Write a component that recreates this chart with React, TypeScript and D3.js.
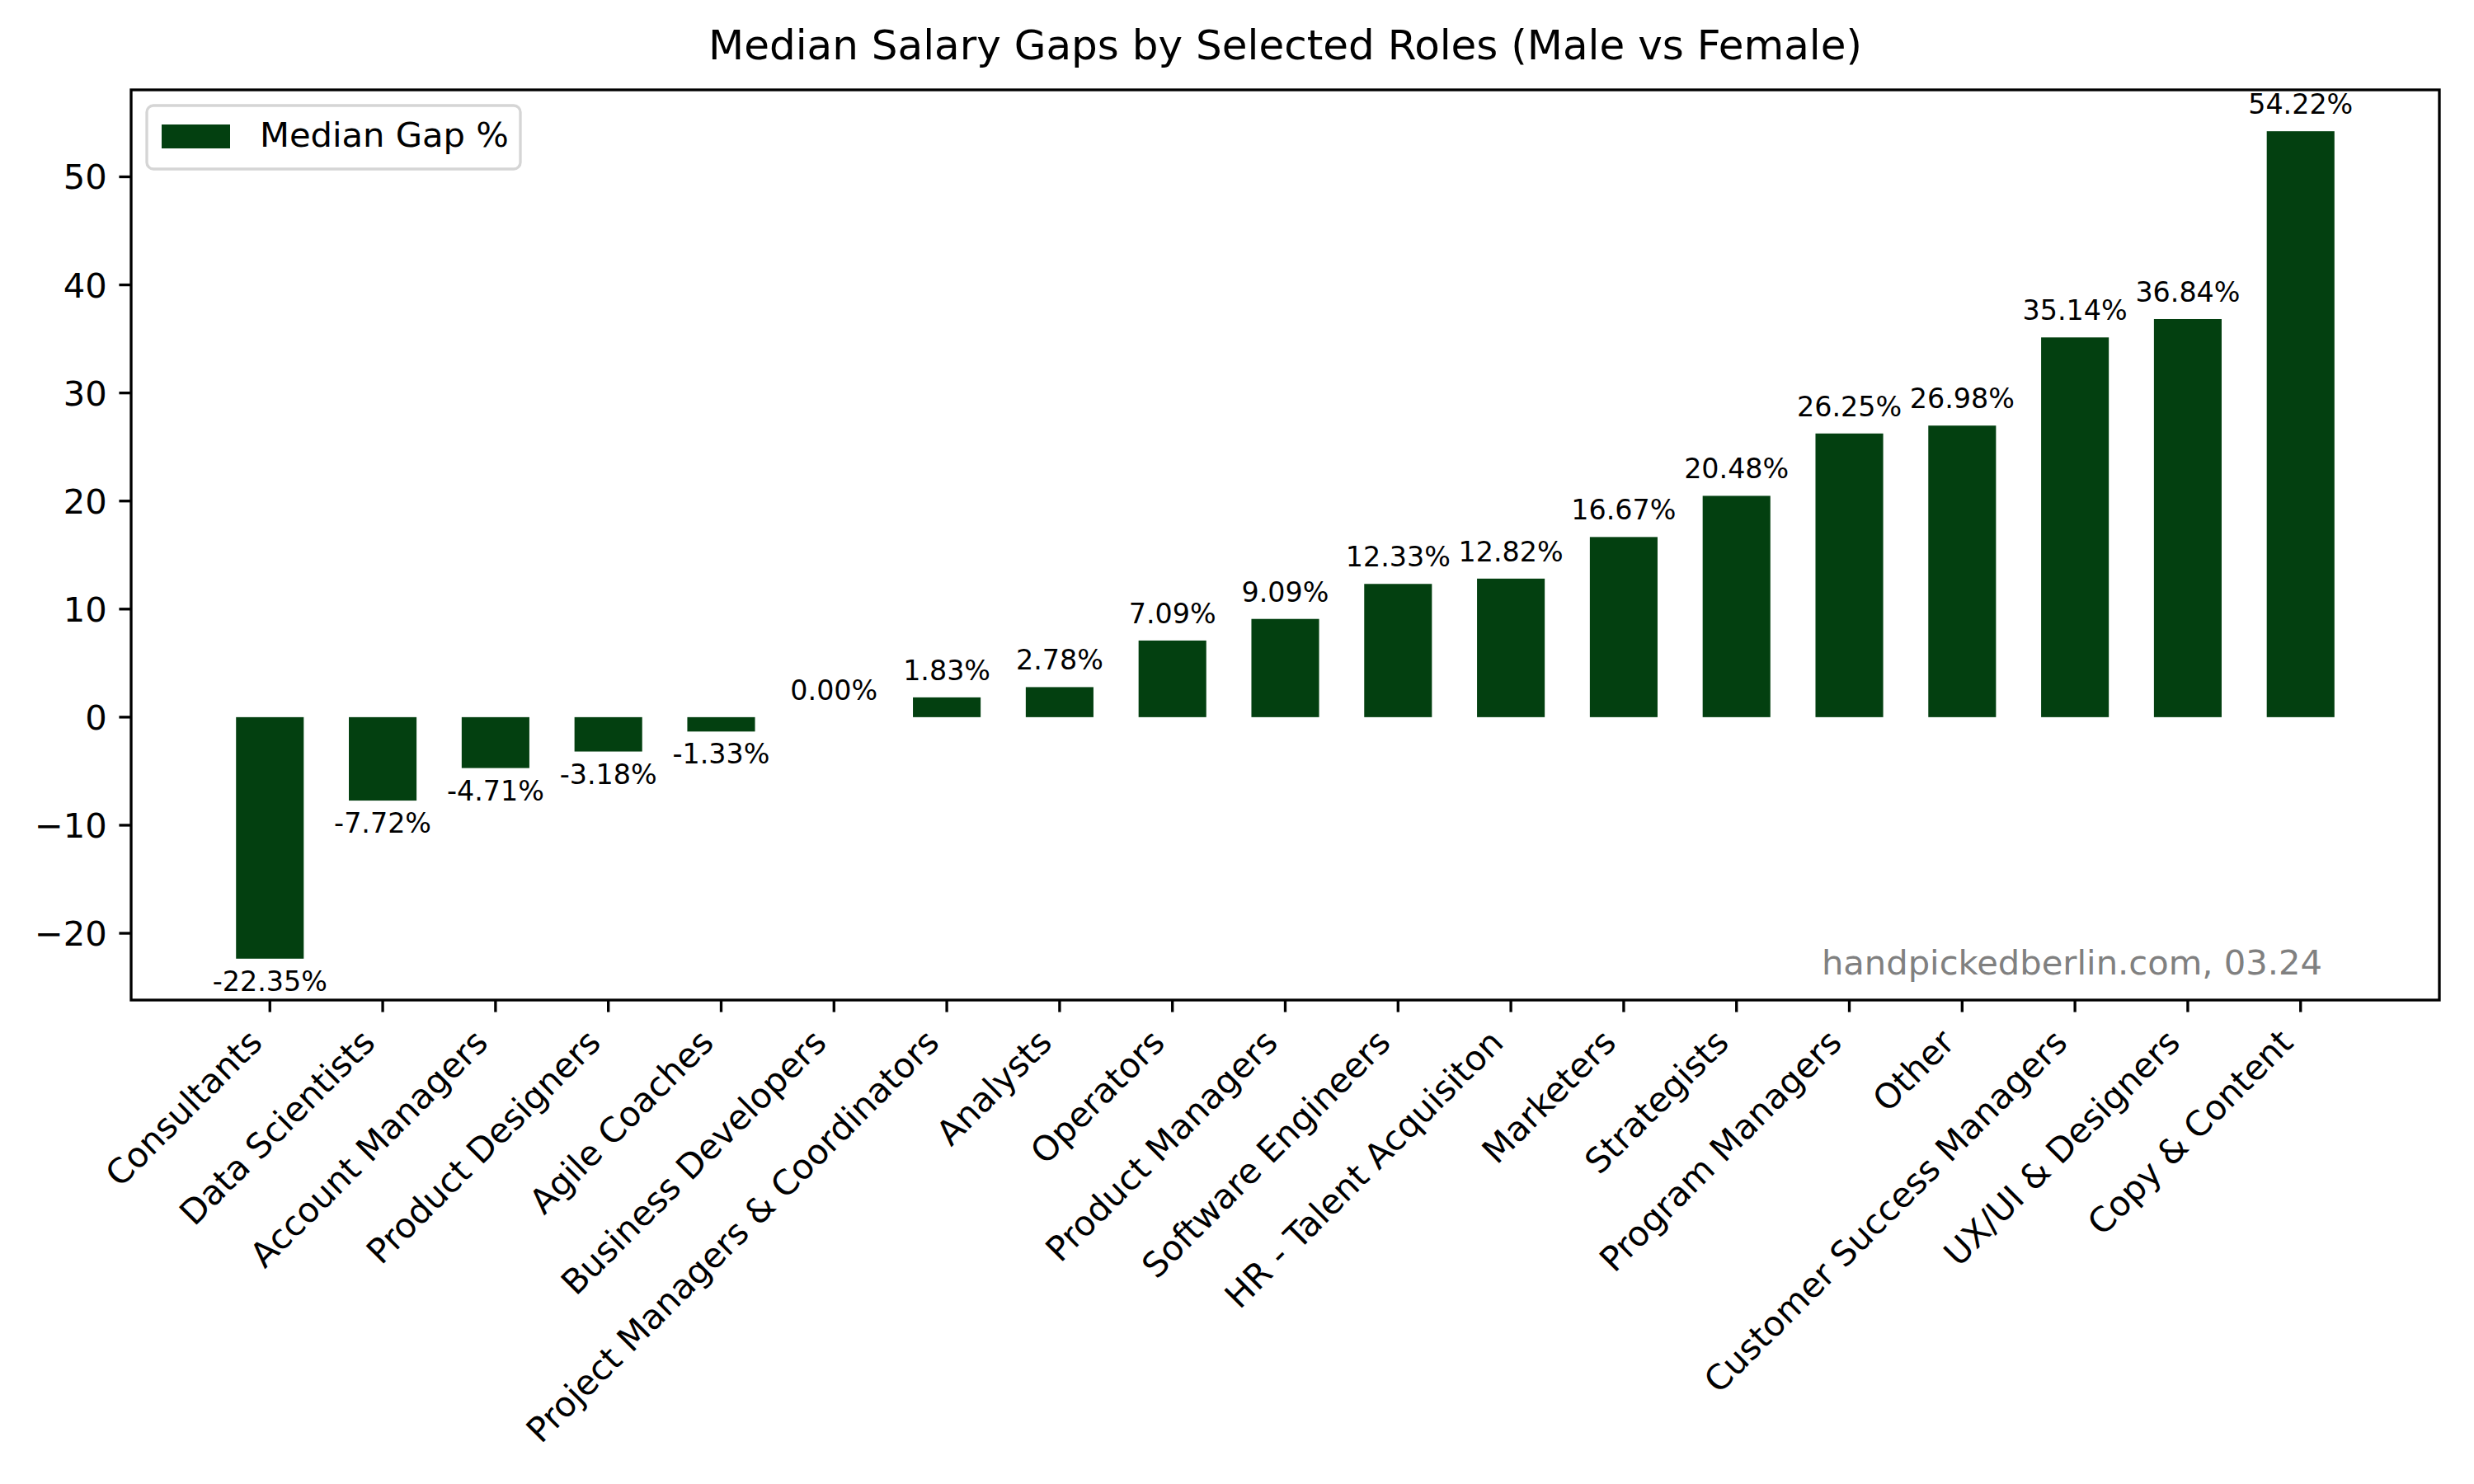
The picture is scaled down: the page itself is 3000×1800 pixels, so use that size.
import React from "react";
import * as d3 from "d3";

const roles = [
  "Consultants",
  "Data Scientists",
  "Account Managers",
  "Product Designers",
  "Agile Coaches",
  "Business Developers",
  "Project Managers & Coordinators",
  "Analysts",
  "Operators",
  "Product Managers",
  "Software Engineers",
  "HR - Talent Acquisiton",
  "Marketers",
  "Strategists",
  "Program Managers",
  "Other",
  "Customer Success Managers",
  "UX/UI & Designers",
  "Copy & Content",
];

const gaps = [
  -22.35, -7.72, -4.71, -3.18, -1.33, 0.0, 1.83, 2.78, 7.09, 9.09, 12.33,
  12.82, 16.67, 20.48, 26.25, 26.98, 35.14, 36.84, 54.22,
];

const yTicks = [-20, -10, 0, 10, 20, 30, 40, 50];
const title = "Median Salary Gaps by Selected Roles (Male vs Female)";
const legendLabel = "Median Gap %";
const watermark = "handpickedberlin.com, 03.24";

const W = 3000;
const H = 1800;
const M = { left: 159, right: 2958, top: 109, bottom: 1213 };
const BAR_W = 0.6;
const COLOR = "#034010";
const FONT = "DejaVu Sans";
const PT = 300 / 72;

export default function App() {
  const n = roles.length;
  const x0 = -BAR_W / 2;
  const x1 = n - 1 + BAR_W / 2;
  const xPad = (x1 - x0) * 0.05;
  const x = d3.scaleLinear().domain([x0 - xPad, x1 + xPad]).range([M.left, M.right]);

  const yMin = Math.min(0, d3.min(gaps) as number);
  const yMax = Math.max(0, d3.max(gaps) as number);
  const yPad = (yMax - yMin) * 0.05;
  const y = d3.scaleLinear().domain([yMin - yPad, yMax + yPad]).range([M.bottom, M.top]);

  const tickLen = 3.5 * PT;
  const tickPad = 3.5 * PT;
  const tickFs = 10 * PT;
  const barFs = 8 * PT;
  const lw = 0.8 * PT;
  const fmtY = (v: number) => (v < 0 ? "\u2212" + Math.abs(v) : String(v));

  return (
    <div style={{ position: "absolute", left: 0, top: 0 }}>
      <svg width={W} height={H} xmlns="http://www.w3.org/2000/svg" style={{ display: "block", background: "#fff" }} fontFamily={FONT}>
        <rect x={0} y={0} width={W} height={H} fill="#fff" />
        {/* bars */}
        {gaps.map((g, i) => {
          const top = y(Math.max(0, g));
          const bot = y(Math.min(0, g));
          return (
            <rect key={"b" + i} x={x(i - BAR_W / 2)} y={top} width={x(i + BAR_W / 2) - x(i - BAR_W / 2)} height={bot - top} fill={COLOR} />
          );
        })}
        {/* bar labels */}
        {gaps.map((g, i) => {
          const neg = g < 0;
          const yy = neg ? y(g) + 39 : y(g) - 21;
          return (
            <text key={"l" + i} x={x(i)} y={yy} fontSize={barFs} textAnchor="middle" fill="#000">
              {g.toFixed(2) + "%"}
            </text>
          );
        })}
        {/* watermark */}
        <text x={2816} y={1182} fontSize={tickFs} textAnchor="end" fill="#808080">
          {watermark}
        </text>
        {/* legend */}
        <rect x={178} y={128} width={453} height={77} rx={8} ry={8} fill="#fff" fillOpacity={0.8} stroke="#d5d5d5" strokeWidth={lw} />
        <rect x={196} y={151} width={83} height={29} fill={COLOR} />
        <text x={315} y={178} fontSize={tickFs} fill="#000">
          {legendLabel}
        </text>
        {/* y axis ticks */}
        {yTicks.map((t) => (
          <g key={"y" + t}>
            <line x1={M.left - tickLen} x2={M.left} y1={y(t)} y2={y(t)} stroke="#000" strokeWidth={lw} />
            <text x={M.left - tickLen - tickPad} y={y(t)} dy="0.36em" fontSize={tickFs} textAnchor="end" fill="#000">
              {fmtY(t)}
            </text>
          </g>
        ))}
        {/* x axis ticks */}
        {roles.map((r, i) => (
          <g key={"x" + i}>
            <line x1={x(i)} x2={x(i)} y1={M.bottom} y2={M.bottom + tickLen} stroke="#000" strokeWidth={lw} />
            <text transform={`translate(${x(i) - 7},${1267}) rotate(-45)`} fontSize={tickFs} textAnchor="end" fill="#000">
              {r}
            </text>
          </g>
        ))}
        {/* spines */}
        <rect x={M.left} y={M.top} width={M.right - M.left} height={M.bottom - M.top} fill="none" stroke="#000" strokeWidth={lw} />
        {/* title */}
        <text x={(M.left + M.right) / 2} y={72} fontSize={12 * PT} textAnchor="middle" fill="#000">
          {title}
        </text>
      </svg>
    </div>
  );
}
